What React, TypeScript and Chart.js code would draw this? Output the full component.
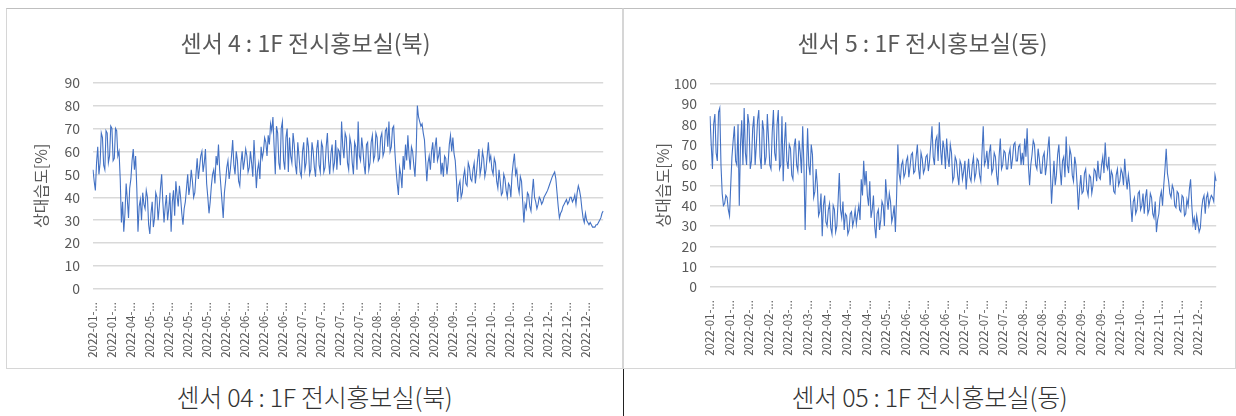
import React, { useEffect, useRef } from "react";
import { Chart, registerables } from "chart.js";

Chart.register(...registerables);

const FONT = "'Noto Sans CJK KR', 'Noto Sans', sans-serif";
const AXIS_GRAY = "#595959";
const GRID_GRAY = "#d9d9d9";
const LINE_BLUE = "#4472C4";
// two readings per slot, eight slots between printed axis labels
const READINGS_PER_SLOT = 2;
const SLOTS_PER_LABEL = 8;

// month printed under every labelled reading on the category axis
const northMonths = [
  "01", "01", "04", "05", "05", "05", "05", "06", "06", "06", "06", "07", "07", "07",
  "07", "08", "08", "09", "09", "09", "10", "10", "10", "10", "12", "12", "12",
];
const eastMonths = [
  "01", "01", "02", "02", "03", "03", "04", "04", "04", "05", "06", "06", "06",
  "07", "07", "07", "08", "08", "09", "09", "09", "10", "10", "11", "11", "12",
];

// relative humidity [%], sensor 4 (north) - first reading of each slot
const northRhA = [
  52, 43, 62, 55, 66, 52, 68, 58,
  70, 57, 69, 60, 29, 25, 46, 31,
  48, 61, 58, 25, 39, 42, 35, 40,
  24, 38, 31, 40, 36, 50, 29, 41,
  35, 25, 43, 47, 36, 40, 28, 38,
  50, 45, 47, 42, 57, 53, 60, 55,
  46, 33, 45, 52, 58, 63, 45, 31,
  47, 56, 52, 65, 50, 56, 45, 60,
  56, 58, 53, 55, 65, 44, 55, 62,
  60, 64, 67, 72, 75, 50, 68, 52,
  73, 52, 70, 66, 55, 63, 50, 58,
  49, 64, 55, 62, 52, 60, 49, 65,
  51, 62, 53, 68, 50, 63, 55, 52,
  60, 73, 57, 66, 52, 63, 50, 62,
  73, 56, 61, 50, 64, 55, 67, 58,
  66, 57, 68, 60, 70, 73, 62, 71,
  52, 41, 50, 58, 63, 67, 52, 60,
  49, 80, 73, 72, 65, 47, 58, 60,
  55, 66, 58, 50, 49, 57, 55, 67,
  66, 56, 38, 47, 42, 52, 45, 53,
  47, 55, 51, 61, 53, 57, 52, 64,
  58, 50, 55, 44, 47, 42, 48, 40,
  45, 50, 59, 52, 42, 47, 29, 35,
  41, 34, 48, 38, 37, 39, 38, 41,
  43, 46, 49, 51, 42, 31, 34, 37,
  39, 38, 40, 39, 37, 45, 40, 31,
  33, 29, 29, 27, 27, 28, 30, 33,
];
// relative humidity [%], sensor 4 (north) - second reading of each slot
const northRhB = [
  47, 55, 50, 68, 54, 69, 55, 71,
  56, 70, 58, 48, 38, 33, 39, 44,
  56, 52, 44, 36, 30, 37, 43, 28,
  33, 27, 42, 30, 44, 38, 36, 30,
  42, 38, 32, 41, 45, 33, 35, 44,
  41, 52, 40, 50, 48, 58, 51, 61,
  40, 38, 50, 46, 54, 52, 38, 42,
  53, 48, 58, 54, 60, 47, 55, 52,
  61, 51, 60, 49, 55, 52, 48, 57,
  66, 58, 63, 69, 62, 71, 55, 70,
  56, 66, 51, 58, 68, 54, 64, 51,
  60, 52, 66, 50, 64, 53, 61, 54,
  64, 51, 62, 56, 59, 52, 65, 61,
  54, 62, 68, 55, 66, 55, 64, 52,
  58, 66, 54, 63, 52, 64, 56, 68,
  56, 66, 58, 69, 62, 60, 70, 60,
  46, 53, 44, 52, 56, 58, 62, 54,
  60, 75, 71, 68, 56, 55, 52, 64,
  62, 56, 62, 55, 58, 50, 63, 60,
  59, 48, 45, 40, 49, 46, 55, 48,
  52, 46, 57, 50, 60, 49, 58, 56,
  52, 57, 47, 52, 41, 50, 43, 46,
  40, 55, 50, 45, 49, 38, 37, 42,
  36, 42, 40, 35, 40, 37, 40, 42,
  44.5, 47.5, 50, 48, 36, 33, 36, 38,
  37, 40, 38, 41, 42, 43, 35, 29,
  30, 28, 28, 27, 28, 29, 31, 34,
];

// relative humidity [%], sensor 5 (east) - first reading of each slot
const eastRhA = [
  84, 58, 85, 62, 88, 46, 41, 44,
  35, 64, 79, 60, 40, 82, 88, 60,
  80, 62, 84, 70, 87, 58, 77, 64,
  73, 58, 87, 62, 87, 60, 52, 81,
  58, 68, 53, 73, 57, 66, 79, 28,
  78, 55, 65, 47, 50, 37, 25, 45,
  30, 41, 26, 38, 30, 56, 34, 28,
  35, 28, 37, 33, 31, 40, 53, 62,
  57, 40, 34, 45, 24, 38, 33, 40,
  53, 38, 42, 35, 27, 70, 52, 62,
  56, 64, 59, 66, 57, 70, 53, 63,
  58, 65, 62, 79, 60, 74, 81, 60,
  68, 73, 59, 66, 54, 62, 50, 60,
  57, 48, 63, 52, 64, 56, 62, 52,
  79, 62, 58, 70, 58, 64, 50, 73,
  60, 66, 58, 68, 63, 71, 62, 70,
  66, 73, 78, 50, 65, 70, 58, 63,
  56, 66, 60, 74, 41, 62, 55, 70,
  50, 64, 74, 56, 65, 52, 60, 38,
  55, 47, 58, 45, 54, 50, 57, 62,
  53, 64, 71, 58, 50, 55, 46, 58,
  52, 56, 63, 48, 50, 32, 44, 38,
  47, 40, 36, 48, 38, 44, 34, 27,
  36, 47, 50, 68, 52, 44, 48, 39,
  46, 37, 44, 36, 40, 53, 31, 28,
  31, 29, 43, 36, 46, 43, 44, 55,
];
// relative humidity [%], sensor 5 (east) - second reading of each slot
const eastRhB = [
  70, 80, 66, 86, 60, 40, 45, 38,
  50, 72, 62, 80, 70, 60, 66, 85,
  58, 78, 60, 82, 64, 82, 60, 85,
  60, 76, 66, 80, 58, 84, 70, 62,
  70, 55, 69, 60, 72, 56, 60, 55,
  60, 70, 44, 58, 35, 46, 40, 32,
  38, 29, 40, 27, 42, 38, 42, 36,
  26, 36, 30, 38, 36, 33, 45, 50,
  45, 52, 38, 30, 36, 28, 42, 30,
  44, 46, 32, 40, 45, 56, 60, 54,
  62, 54, 65, 56, 64, 58, 66, 56,
  64, 57, 70, 64, 72, 62, 68, 72,
  58, 64, 70, 52, 64, 55, 62, 53,
  62, 56, 54, 60, 53, 63, 55, 66,
  60, 67, 66, 56, 66, 55, 64, 58,
  67, 58, 65, 58, 70, 62, 69, 60,
  60, 64, 60, 60, 72, 60, 68, 56,
  64, 55, 68, 58, 52, 50, 65, 58,
  62, 54, 60, 68, 55, 64, 50, 48,
  46, 56, 48, 55, 46, 58, 52, 54,
  60, 56, 60, 64, 57, 47, 55, 50,
  58, 50, 54, 55, 40, 42, 36, 46,
  38, 46, 44, 36, 46, 36, 42, 33,
  44, 40, 58, 56, 46, 50, 40, 47,
  38, 45, 35, 43, 48, 40, 34, 35,
  27, 38, 45, 44, 40, 45, 42, 52,
];

function interleave(a: number[], b: number[]): number[] {
  const out: number[] = [];
  a.forEach((v, i) => {
    out.push(v, b[i]);
  });
  return out;
}

function buildLabels(months: string[]): string[] {
  const out: string[] = [];
  const step = READINGS_PER_SLOT * SLOTS_PER_LABEL;
  months.forEach((m) => {
    out.push(`2022-${m}-...`);
    for (let k = 1; k < step; k++) out.push("");
  });
  return out;
}

type ChartProps = {
  title: string;
  months: string[];
  values: number[];
  yMax: number;
  width: number;
  height: number;
  padRight: number;
  xAxisHeight: number;
  yAxisWidth: number;
  yTitlePad: number;
  titlePadTop: number;
  titlePadBottom: number;
};

function HumidityChart(p: ChartProps) {
  const ref = useRef<HTMLCanvasElement>(null);

  useEffect(() => {
    if (!ref.current) return;
    const chart = new Chart(ref.current, {
      type: "line",
      data: {
        labels: buildLabels(p.months),
        datasets: [
          {
            data: p.values,
            borderColor: LINE_BLUE,
            borderWidth: 1.1,
            pointRadius: 0,
            tension: 0,
            fill: false,
          },
        ],
      },
      options: {
        animation: false,
        responsive: false,
        maintainAspectRatio: false,
        layout: { padding: { left: 0, right: p.padRight, top: 0, bottom: 0 } },
        plugins: {
          legend: { display: false },
          tooltip: { enabled: false },
          title: {
            display: true,
            text: p.title,
            color: AXIS_GRAY,
            font: { family: FONT, size: 23, weight: "normal" },
            padding: { top: p.titlePadTop, bottom: p.titlePadBottom },
          },
        },
        scales: {
          x: {
            grid: { display: false },
            border: { display: false },
            ticks: {
              autoSkip: false,
              minRotation: 90,
              maxRotation: 90,
              color: AXIS_GRAY,
              font: { family: FONT, size: 11.5 },
              padding: 5,
            },
            afterFit: (scale: any) => {
              scale.height = p.xAxisHeight;
            },
          },
          y: {
            min: 0,
            max: p.yMax,
            ticks: {
              stepSize: 10,
              color: AXIS_GRAY,
              font: { family: FONT, size: 14 },
              padding: 13,
            },
            grid: { color: GRID_GRAY, lineWidth: 1.5, drawTicks: false },
            border: { display: false },
            title: {
              display: true,
              text: "상대습도[%]",
              color: AXIS_GRAY,
              font: { family: FONT, size: 16 },
              padding: { top: p.yTitlePad, bottom: 0 },
            },
            afterFit: (scale: any) => {
              scale.width = p.yAxisWidth;
            },
          },
        },
      },
    });
    return () => chart.destroy();
  }, []);

  return (
    <canvas
      ref={ref}
      width={p.width}
      height={p.height}
      style={{ display: "block", width: p.width, height: p.height }}
    />
  );
}

const panelBase: React.CSSProperties = {
  position: "absolute",
  top: 8,
  height: 361,
  boxSizing: "border-box",
  border: "1px solid #d6d6d6",
  borderTop: "1px solid #bfbfbf",
  background: "#fff",
};

const captionBase: React.CSSProperties = {
  position: "absolute",
  top: 373,
  height: 45,
  display: "flex",
  alignItems: "center",
  justifyContent: "center",
  fontFamily: FONT,
  fontSize: 25,
  fontWeight: 300,
  color: "#333",
  letterSpacing: "-0.3px",
};

export default function App() {
  return (
    <div
      style={{
        position: "fixed",
        left: 0,
        top: 0,
        width: 1236,
        height: 416,
        background: "#fff",
        overflow: "hidden",
      }}
    >
      <div style={{ ...panelBase, left: 6, width: 617 }}>
        <HumidityChart
          title="센서 4 : 1F 전시홍보실(북)"
          months={northMonths}
          values={interleave(northRhA, northRhB)}
          yMax={90}
          width={615}
          height={359}
          padRight={18}
          xAxisHeight={79}
          yAxisWidth={86}
          yTitlePad={24}
          titlePadTop={20}
          titlePadBottom={26}
        />
      </div>
      <div style={{ ...panelBase, left: 623, width: 613 }}>
        <HumidityChart
          title="센서 5 : 1F 전시홍보실(동)"
          months={eastMonths}
          values={interleave(eastRhA, eastRhB)}
          yMax={100}
          width={611}
          height={359}
          padRight={14}
          xAxisHeight={81}
          yAxisWidth={86}
          yTitlePad={29}
          titlePadTop={20}
          titlePadBottom={27}
        />
      </div>
      <div style={{ ...captionBase, left: 6, width: 617 }}>센서 04 : 1F 전시홍보실(북)</div>
      <div style={{ ...captionBase, left: 623, width: 613 }}>센서 05 : 1F 전시홍보실(동)</div>
      <div
        style={{
          position: "absolute",
          left: 623,
          top: 369,
          width: 1,
          height: 47,
          background: "#222",
        }}
      />
    </div>
  );
}
